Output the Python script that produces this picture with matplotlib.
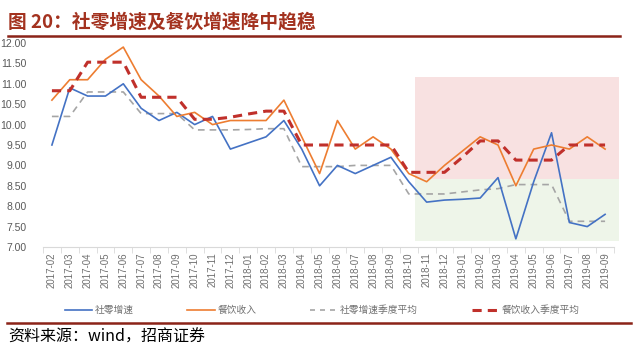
import matplotlib
matplotlib.use("Agg")
import matplotlib.pyplot as plt
from matplotlib.patches import Rectangle
from matplotlib.lines import Line2D

plt.rcParams["font.family"] = ["Noto Sans CJK SC", "DejaVu Sans"]

# %% data
months = (
    [f"2017-{m:02d}" for m in range(2, 13)]
    + [f"2018-{m:02d}" for m in range(1, 13)]
    + [f"2019-{m:02d}" for m in range(1, 10)]
)

retail = [9.5, 10.9, 10.7, 10.7, 11.0, 10.4, 10.1, 10.3, 10.0, 10.2, 9.4,
          9.55, 9.7, 10.1, 9.4, 8.5, 9.0, 8.8, 9.0, 9.2, 8.6, 8.1, 8.15,
          8.17, 8.2, 8.7, 7.2, 8.6, 9.8, 7.6, 7.5, 7.8]
catering = [10.6, 11.1, 11.1, 11.6, 11.9, 11.1, 10.7, 10.2, 10.3, 10.0, 10.1,
            10.1, 10.1, 10.6, 9.7, 8.8, 10.1, 9.4, 9.7, 9.4, 8.8, 8.6, 9.0,
            9.35, 9.7, 9.5, 8.5, 9.4, 9.5, 9.4, 9.7, 9.4]
retail_q = [10.2, 10.2, 10.8, 10.8, 10.8, 10.27, 10.27, 10.27, 9.87, 9.87, 9.87,
            9.88, 9.9, 9.9, 8.97, 8.97, 8.97, 9.0, 9.0, 9.0, 8.3, 8.3, 8.3,
            8.35, 8.4, 8.43, 8.53, 8.53, 8.53, 7.63, 7.63, 7.63]
catering_q = [10.83, 10.83, 11.53, 11.53, 11.53, 10.67, 10.67, 10.67, 10.13, 10.13, 10.18,
              10.26, 10.33, 10.33, 9.5, 9.5, 9.5, 9.5, 9.5, 9.5, 8.83, 8.83, 8.83,
              9.2, 9.6, 9.6, 9.13, 9.13, 9.13, 9.5, 9.5, 9.5]

labels = ["社零增速", "餐饮收入", "社零增速季度平均", "餐饮收入季度平均"]

# shaded zones (x in category units, y in %)
zone_x = (20.34, 31.77)
zone_split, zone_top, zone_bottom = 8.67, 11.17, 7.15

# %% figure
fig = plt.figure(figsize=(6.38, 3.64), dpi=100)
ax = fig.add_axes([43 / 638, 1 - 247 / 364, 571 / 638, 204 / 364])

x = list(range(len(months)))
w = zone_x[1] - zone_x[0]
ax.add_patch(Rectangle((zone_x[0], zone_split), w, zone_top - zone_split,
                       facecolor="#F8E1E1", edgecolor="none", clip_on=False, zorder=0))
ax.add_patch(Rectangle((zone_x[0], zone_bottom), w, zone_split - zone_bottom,
                       facecolor="#EEF5E9", edgecolor="none", clip_on=False, zorder=0))

ax.plot(x, retail, color="#4472C4", lw=1.2, zorder=3)
ax.plot(x, catering, color="#ED7D31", lw=1.2, zorder=3)
ax.plot(x, retail_q, color="#A5A5A5", lw=1.2, dashes=(4, 3), zorder=2)
ax.plot(x, catering_q, color="#C0302B", lw=2.2, dashes=(3, 2), zorder=4)

ax.set_xlim(-0.5, len(months) - 0.5)
ax.set_ylim(7, 12)
ax.set_yticks([7 + 0.5 * i for i in range(11)])
ax.set_yticklabels([f"{7 + 0.5 * i:.2f}" for i in range(11)],
                   fontsize=7.5, color="#595959", family="Liberation Sans")
ax.set_xticks(x)
ax.set_xticklabels(months, rotation=90, fontsize=7, color="#707070",
                   family="Liberation Sans")
ax.set_xticks([i - 0.5 for i in range(len(months) + 1)], minor=True)
ax.tick_params(axis="x", which="major", length=0, pad=4)
ax.tick_params(axis="x", which="minor", length=4, color="#D9D9D9")
ax.tick_params(axis="y", length=0, pad=12)
for s in ["left", "right", "top"]:
    ax.spines[s].set_visible(False)
ax.spines["bottom"].set_color("#D9D9D9")

# legend
handles = [
    Line2D([], [], color="#4472C4", lw=1.2),
    Line2D([], [], color="#ED7D31", lw=1.2),
    Line2D([], [], color="#A5A5A5", lw=1.2, dashes=(3, 3)),
    Line2D([], [], color="#C0302B", lw=2.2, dashes=(3, 2)),
]
fig.legend(handles, labels, loc="center", bbox_to_anchor=(0.505, 1 - 310 / 364),
           ncol=4, frameon=False, fontsize=7, handlelength=2.8,
           handletextpad=0.3, columnspacing=5.5, labelcolor="#707070")

# title, rules and source
red = "#8B2318"
fig.text(8 / 638, 1 - 22 / 364, "图 20：社零增速及餐饮增速降中趋稳", fontsize=13.5,
         fontweight="bold", color="#A3321F", va="center", ha="left")
fig.add_artist(Line2D([8 / 638, 620 / 638], [1 - 36 / 364] * 2, color=red, lw=1.8))
fig.add_artist(Line2D([7 / 638, 631 / 638], [1 - 323 / 364] * 2, color=red, lw=1.8))
fig.text(8 / 638, 1 - 337 / 364, "资料来源：wind，招商证券", fontsize=11.5,
         color="black", va="center", ha="left")

fig.savefig("out.png", dpi=100)
